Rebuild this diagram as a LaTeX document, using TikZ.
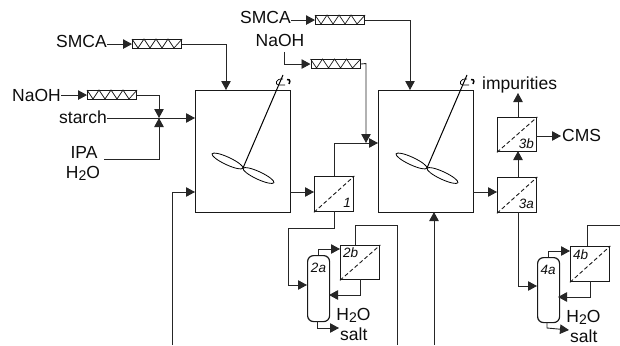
\documentclass[tikz,border=0pt]{standalone}
\usepackage{fontspec}
\setmainfont{Liberation Sans}
\usetikzlibrary{arrows.meta}
\tikzset{
  x=1pt,y=-1pt,
  ln/.style={line width=0.9pt,draw=black!85},
  flow/.style={ln,-{Triangle[length=9pt,width=9.5pt]}},
  plain/.style={ln},
  lab/.style={inner sep=0pt,font=\fontsize{17.5}{19}\selectfont,text=black!95},
  tag/.style={inner sep=0pt,font=\fontsize{13.5}{15}\selectfont\itshape,text=black!95},
  boxed/.style={draw=black!90,line width=1.3pt,fill=white,inner sep=0pt,anchor=north west,minimum width=#1},
}
\newcommand{\feeder}[3]{% name, x, y
  \node[draw=black!90,line width=1.1pt,inner sep=0pt,minimum width=49pt,minimum height=9pt,anchor=north west] (#1) at (#2,#3) {};
  \draw[line width=0.7pt,black!90] (#1.north west) -- ++(6,9) -- ++(6,-9) -- ++(6,9) -- ++(6,-9) -- ++(6,9) -- ++(6,-9) -- ++(6,9) -- (#1.north east);
}
\newcommand{\filter}[5]{% name, x, y, w, h
  \node[boxed=#4pt,minimum height=#5pt] (#1) at (#2,#3) {};
  \draw[line width=0.9pt,black!90,dash pattern=on 4pt off 2.5pt] (#1.south west) -- (#1.north east);
}
\newcommand{\agitator}[2]{% hub x, hub y
  \draw[line width=1pt,black] (#1,#2) -- ++(40,-93);
  \draw[line width=0.8pt,black,rotate around={-25:(#1-15.5,#2-7)}] (#1-15.5,#2-7) ellipse [x radius=17,y radius=3.8];
  \draw[line width=0.8pt,black,rotate around={-25:(#1+15.5,#2+7.5)}] (#1+15.5,#2+7.5) ellipse [x radius=17,y radius=3.8];
  \draw[line width=0.7pt,black] (#1+40,#2-89) .. controls (#1+33,#2-90) and (#1+31,#2-83) .. (#1+36,#2-83) -- (#1+42,#2-83);
  \draw[line width=1.5pt,black] (#1+44,#2-88.5) .. controls (#1+48,#2-89) and (#1+47,#2-85) .. (#1+46,#2-84);
}
\begin{document}
\begin{tikzpicture}
\useasboundingbox (0,0) rectangle (620,345);

% reactors
\node[boxed=95pt,minimum height=122pt] (R1) at (195,90) {};
\node[boxed=95pt,minimum height=122pt] (R2) at (378,90) {};
\agitator{243}{168}
\agitator{427}{168}

% filters
\filter{F1}{314}{176}{39}{35}
\filter{F2b}{340}{245}{39}{34}
\filter{F3a}{497}{177}{39}{35}
\filter{F3b}{497}{117}{39}{34}
\filter{F4b}{570}{246}{39}{35}
\node[tag,anchor=base east] at (351,207) {1};
\node[tag,anchor=base west] at (343,257) {2b};
\node[tag,anchor=base east] at (534,208) {3a};
\node[tag,anchor=base east] at (534,148) {3b};
\node[tag,anchor=base west] at (573,259) {4b};

% membrane columns
\node[draw=black!90,line width=1.2pt,rounded corners=6pt,inner sep=0pt,minimum width=22pt,minimum height=66pt,anchor=north west] (C2) at (307,255) {};
\node[draw=black!90,line width=1.2pt,rounded corners=6pt,inner sep=0pt,minimum width=22pt,minimum height=65pt,anchor=north west] (C4) at (537,257) {};
\node[tag,anchor=base] at (318.5,272) {2a};
\node[tag,anchor=base] at (548,274) {4a};

% feeders
\feeder{S1}{132}{39}
\feeder{N1}{87}{90}
\feeder{S2}{315}{15}
\feeder{N2}{310.5}{59}

% labels
\node[lab,anchor=base east] (tS1) at (107,48) {SMCA};
\node[lab,anchor=base east] (tN1) at (61,101) {NaOH};
\node[lab,anchor=base east] (tst) at (107,123) {starch};
\node[lab,anchor=base] (tIPA) at (84,158) {IPA};
\node[lab,anchor=base] (tW1) at (83,178) {H\raisebox{-2pt}{\fontsize{14}{14}\selectfont 2}O};
\node[lab,anchor=base east] (tS2) at (291,24) {SMCA};
\node[lab,anchor=base] (tN2) at (280,47) {NaOH};
\node[lab,anchor=base west] (timp) at (482,89) {impurities};
\node[lab,anchor=base west] (tCMS) at (562,141.5) {CMS};
\node[lab,anchor=base] (tW2) at (353.5,320) {H\raisebox{-2pt}{\fontsize{14}{14}\selectfont 2}O};
\node[lab,anchor=base west] (tsalt2) at (340,340) {salt};
\node[lab,anchor=base] (tW4) at (583.5,322) {H\raisebox{-2pt}{\fontsize{14}{14}\selectfont 2}O};
\node[lab,anchor=base west] (tsalt4) at (570,342.5) {salt};

% free ends and junctions
\coordinate (J) at (159,118);
\coordinate (Ibot) at (104,159);
\coordinate (B1) at (172.5,345);
\coordinate (B2) at (434,345);
\coordinate (B3) at (397,345);
\coordinate (E4) at (620,225);

% feeds
\draw[flow] (tS1.east |- S1.west) -- (S1.west);
\draw[flow] (S1.east) -| (226,90);
\draw[flow] (tN1.east |- N1.west) -- (N1.west);
\draw[flow] (N1.east) -| (J);
\draw[flow] (Ibot) -| (J);
\draw[flow] (tst.east |- J) -- (195,118);
\draw[flow] (tS2.east |- S2.west) -- (S2.west);
\draw[flow] (S2.east) -| (410,90);
\draw[flow] (284,52) |- (N2.west);
\draw[flow] (N2.east) -- (366,63.5) -- (366,143);
\draw[flow] (334,176) -- (334,143) -- (378,143);

% reactor 1
\draw[flow] (B1) |- (195,192);
\draw[flow] (290,192) -- (314,192);
% loop 2
\draw[flow] (334,211) -- (334,228) -- (288,228) -- (288,285) -- (307,285);
\draw[flow] (318,255) -- (318,249) -- (340,249);
\draw[flow] (360,279) -- (360,295) -- (329,295);
\draw[flow] (317,321) -- (317,328) -- (339,328);
\draw[plain] (355.5,245) -- (355.5,225) -- (397,225) -- (B3);

% reactor 2
\draw[flow] (B2) -- (434,212);
\draw[flow] (473,192) -- (497,192);
\draw[flow] (518,177) -- (518,151);
\draw[flow] (518,117) -- (518,93);
\draw[flow] (536,136) -- (561,136);
% loop 4
\draw[flow] (518,212) -- (518,286) -- (537,286);
\draw[flow] (548,257) -- (548,251) -- (570,251);
\draw[flow] (590,281) -- (590,297) -- (558,297);
\draw[flow] (547,322) -- (547,328) -- (569,330);
\draw[plain] (587,246) -- (587,225) -- (E4);
\end{tikzpicture}
\end{document}
